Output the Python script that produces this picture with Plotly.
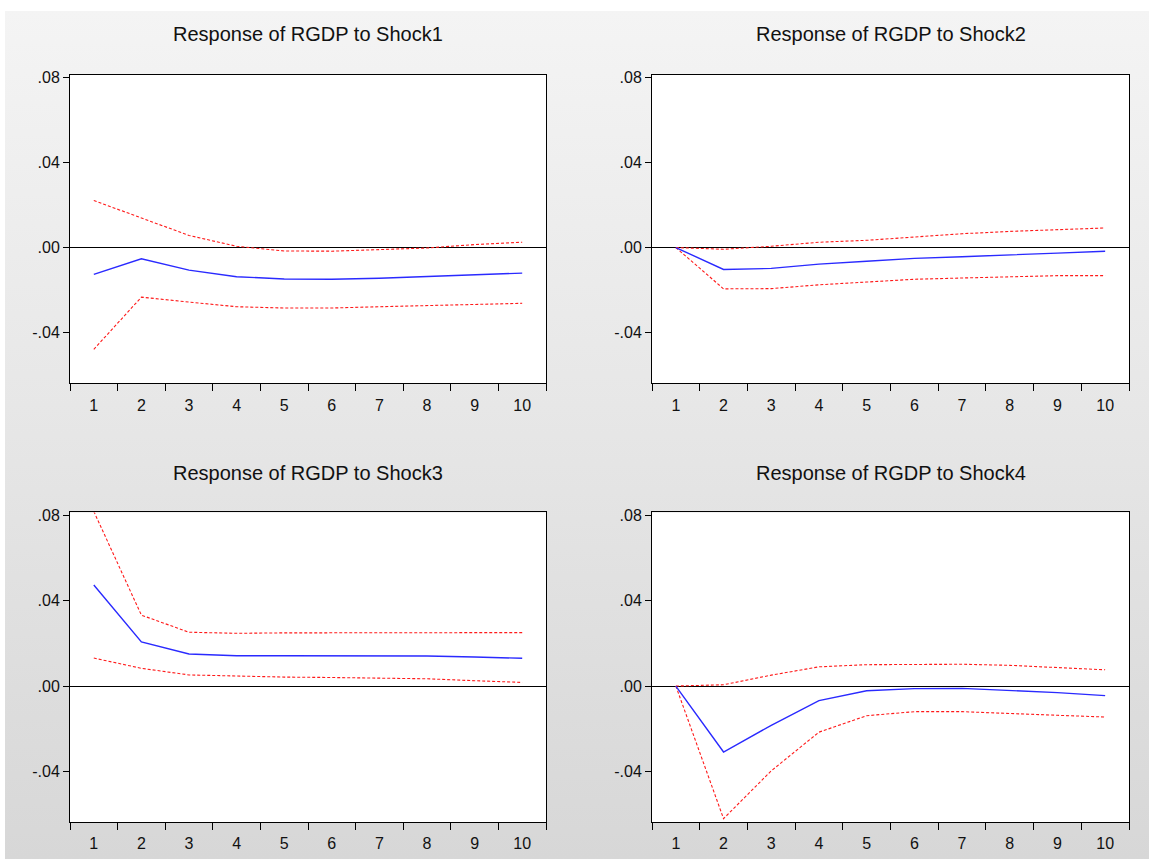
import base64
import plotly.graph_objects as go

periods = [1, 2, 3, 4, 5, 6, 7, 8, 9, 10]

titles = ["Response of RGDP to Shock1", "Response of RGDP to Shock2",
          "Response of RGDP to Shock3", "Response of RGDP to Shock4"]

shock1_resp = [-0.0126, -0.0053, -0.0106, -0.0137, -0.0148, -0.0149, -0.0144, -0.0137, -0.0130, -0.0120]
shock1_upper = [0.0221, 0.0138, 0.0057, 0.0006, -0.0016, -0.0017, -0.0011, -0.0002, 0.0014, 0.0025]
shock1_lower = [-0.0478, -0.0233, -0.0256, -0.0278, -0.0284, -0.0284, -0.0278, -0.0272, -0.0267, -0.0262]

shock2_resp = [0.0, -0.0103, -0.0098, -0.0078, -0.0064, -0.0051, -0.0043, -0.0036, -0.0026, -0.0017]
shock2_upper = [0.0, -0.0008, 0.0006, 0.0025, 0.0034, 0.0050, 0.0065, 0.0076, 0.0085, 0.0092]
shock2_lower = [0.0, -0.0194, -0.0193, -0.0175, -0.0162, -0.0149, -0.0143, -0.0138, -0.0132, -0.0132]

shock3_resp = [0.0473, 0.0207, 0.0150, 0.0142, 0.0142, 0.0142, 0.0142, 0.0141, 0.0136, 0.0130]
shock3_upper = [0.0818, 0.0332, 0.0252, 0.0247, 0.0249, 0.0250, 0.0250, 0.0250, 0.0250, 0.0250]
shock3_lower = [0.0131, 0.0083, 0.0052, 0.0046, 0.0042, 0.0040, 0.0037, 0.0034, 0.0025, 0.0017]

shock4_resp = [0.0, -0.0309, -0.0184, -0.0068, -0.0022, -0.0012, -0.0011, -0.0020, -0.0031, -0.0045]
shock4_upper = [0.0, 0.0006, 0.0051, 0.0090, 0.0100, 0.0102, 0.0102, 0.0097, 0.0086, 0.0076]
shock4_lower = [0.0, -0.0621, -0.0397, -0.0216, -0.0139, -0.0120, -0.0120, -0.0127, -0.0137, -0.0145]

ytick_vals = [-0.04, 0.0, 0.04, 0.08]
ytick_text = ["-.04", ".00", ".04", ".08"]

W, H = 1149, 861
FONT = "Liberation Sans, Arial, sans-serif"

panels = [
    (titles[0], shock1_resp, shock1_upper, shock1_lower, (70, 546), (69, 380)),
    (titles[1], shock2_resp, shock2_upper, shock2_lower, (652, 1129), (69, 380)),
    (titles[2], shock3_resp, shock3_upper, shock3_lower, (70, 546), (510, 822)),
    (titles[3], shock4_resp, shock4_upper, shock4_lower, (652, 1129), (510, 822)),
]

fig = go.Figure()
annotations = []
shapes = []
for i, (title, resp, up, lo, (x0, x1), (y0, y1)) in enumerate(panels, start=1):
    xa = "x" if i == 1 else f"x{i}"
    ya = "y" if i == 1 else f"y{i}"
    for vals, color, dash, width in [(up, "#ff1a1a", "3px,2px", 1.1),
                                     (lo, "#ff1a1a", "3px,2px", 1.1),
                                     (resp, "#2a2aff", "solid", 1.4)]:
        fig.add_trace(go.Scatter(x=periods, y=vals, mode="lines", xaxis=xa, yaxis=ya,
                                 line=dict(color=color, dash=dash, width=width),
                                 showlegend=False, hoverinfo="skip"))
    xkey = "xaxis" if i == 1 else f"xaxis{i}"
    ykey = "yaxis" if i == 1 else f"yaxis{i}"
    fig.update_layout(**{
        xkey: dict(domain=[x0 / W, x1 / W], anchor=ya, range=[0.5, 10.5],
                   tickvals=periods, ticktext=[str(p) for p in periods],
                   ticks="outside", ticklen=7, tickcolor="rgba(0,0,0,0)",
                   minor=dict(tickvals=[p - 0.5 for p in periods] + [10.5], ticks="outside",
                              ticklen=7, tickcolor="black", tickwidth=1, showgrid=False),
                   showgrid=False, zeroline=False, showline=True, mirror=True,
                   linecolor="black", linewidth=1,
                   tickfont=dict(family=FONT, size=16, color="#111111"), fixedrange=True),
        ykey: dict(domain=[1 - y1 / H, 1 - y0 / H], anchor=xa, range=[-0.0638, 0.0813],
                   tickvals=ytick_vals, ticktext=ytick_text, ticks="outside", ticklen=6,
                   tickcolor="black", showgrid=False, zeroline=True, zerolinecolor="black",
                   zerolinewidth=1, showline=True, mirror=True, linecolor="black", linewidth=1,
                   tickfont=dict(family=FONT, size=16, color="#111111"), fixedrange=True),
    })
    shapes.append(dict(type="rect", xref=f"{xa} domain", yref=f"{ya} domain",
                       x0=0, x1=1, y0=0, y1=1, fillcolor="white", line=dict(width=0),
                       layer="below"))
    ty = 28 if y0 < 200 else 470.5
    annotations.append(dict(text=title, x=(x0 + x1) / 2 / W, y=1 - ty / H, xref="paper",
                            yref="paper", showarrow=False, xanchor="center", yanchor="middle",
                            font=dict(family=FONT, size=20, color="#111111")))

svg = (f"<svg xmlns='http://www.w3.org/2000/svg' width='{W}' height='{H}' viewBox='0 0 {W} {H}' "
       "preserveAspectRatio='none'><defs><linearGradient id='g' x1='0' y1='0' x2='0' y2='1'>"
       "<stop offset='0' stop-color='#f4f4f4'/><stop offset='0.5' stop-color='#e6e6e6'/>"
       "<stop offset='1' stop-color='#d7d7d7'/></linearGradient></defs>"
       f"<rect width='{W}' height='{H}' fill='white'/>"
       f"<rect x='5' y='5' width='{W - 5}' height='{H - 7}' fill='url(#g)'/></svg>")
uri = "data:image/svg+xml;base64," + base64.b64encode(svg.encode()).decode()

fig.update_layout(
    width=W, height=H, autosize=False,
    margin=dict(l=0, r=0, t=0, b=0),
    paper_bgcolor="white", plot_bgcolor="white",
    annotations=annotations,
    shapes=shapes,
    images=[dict(source=uri, xref="paper", yref="paper", x=0, y=1, sizex=1, sizey=1,
                 xanchor="left", yanchor="top", sizing="stretch", layer="below")],
)

fig.write_html("out.html", config={"displayModeBar": False},
               post_script="document.body.style.margin='0';document.body.style.overflow='hidden';")
